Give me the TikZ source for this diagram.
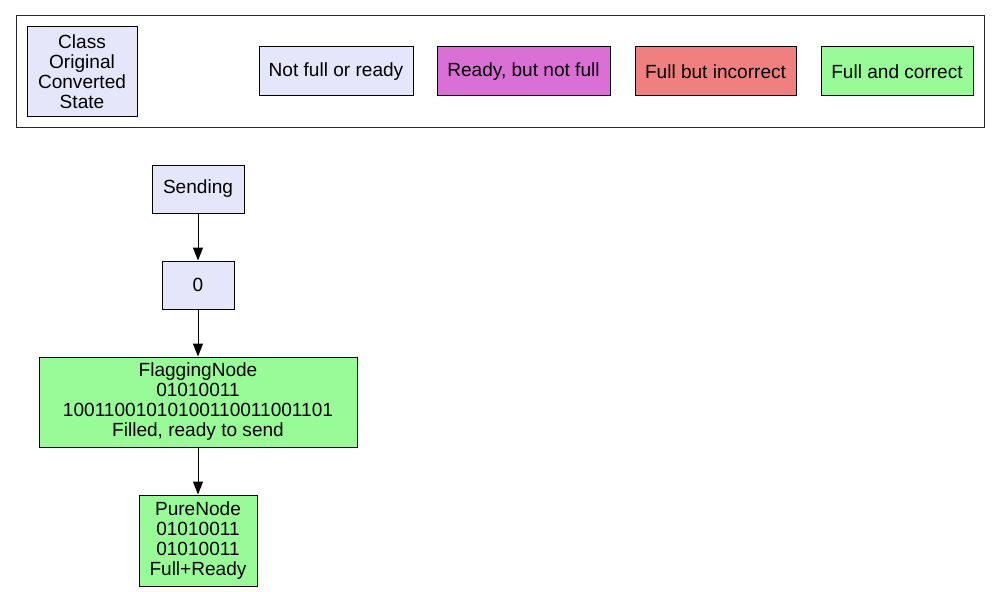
\documentclass[tikz,border=0pt]{standalone}
\usepackage{fontspec}
\setmainfont{Liberation Sans}
\usetikzlibrary{arrows.meta}
\definecolor{lav}{HTML}{E6E6FA}
\definecolor{orch}{HTML}{DA70D6}
\definecolor{lcoral}{HTML}{F08080}
\definecolor{pgreen}{HTML}{98FB98}
\tikzset{
  box/.style={draw=black, line width=0.75pt, inner sep=0pt, align=center,
    font=\fontsize{14.3}{15}\selectfont},
  lavbox/.style={box, fill=lav},
  edge/.style={line width=0.75pt, -{Triangle[length=9.75pt,width=7.5pt]}}
}
\begin{document}
\begin{tikzpicture}[x=0.75pt,y=-0.75pt]
\useasboundingbox (0,0) rectangle (1000,592);
\node[draw=black!85, line width=0.75pt, minimum width=726pt, minimum height=84pt, inner sep=0pt] (frame) at (500,72) {};
\node[lavbox, minimum width=82.5pt, minimum height=67.5pt] (legend) at (82,72) {Class\\Original\\Converted\\State};
\node[lavbox, minimum width=115.5pt, minimum height=36.75pt] (nf) at (336,71.5) {Not full or ready};
\node[box, fill=orch, minimum width=129.75pt, minimum height=36.75pt] (rd) at (523.5,71.5) {Ready, but not full};
\node[box, fill=lcoral, minimum width=120.75pt, minimum height=36.75pt] (fi) at (715.5,71.5) {Full but incorrect};
\node[box, fill=pgreen, minimum width=114pt, minimum height=36.75pt] (fc) at (897,71.5) {Full and correct};

\node[lavbox, minimum width=69pt, minimum height=36pt] (sending) at (198,189) {Sending};
\node[lavbox, minimum width=54pt, minimum height=36pt] (zero) at (198,285) {0};
\node[box, fill=pgreen, minimum width=238.5pt, minimum height=67.5pt] (flag) at (198,402) {FlaggingNode\\01010011\\10011001010100110011001101\\Filled, ready to send};
\node[box, fill=pgreen, minimum width=88.5pt, minimum height=68.25pt] (pure) at (198,540.5) {PureNode\\01010011\\01010011\\Full+Ready};

\draw[edge] (sending) -- (zero);
\draw[edge] (zero) -- (flag);
\draw[edge] (flag) -- (pure);
\end{tikzpicture}
\end{document}
